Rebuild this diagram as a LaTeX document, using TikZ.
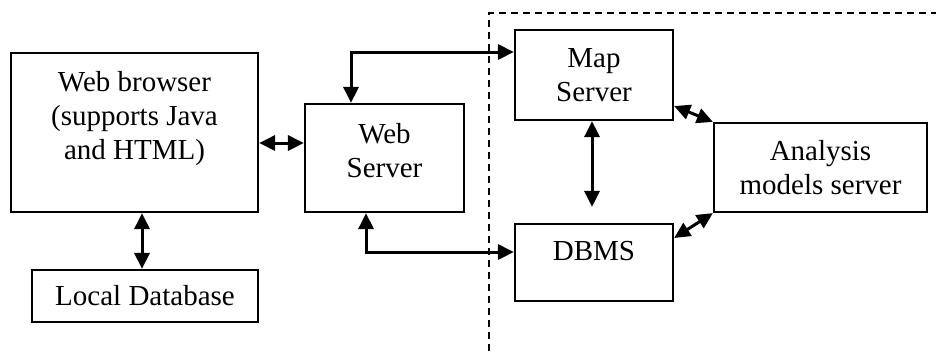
\documentclass[tikz,border=0pt]{standalone}
\usepackage{fontspec}
\setmainfont{Liberation Serif}
\usetikzlibrary{arrows.meta,calc}

\begin{document}
\begin{tikzpicture}[x=1pt, y=-1pt,
    box/.style={draw, rectangle, line width=2.2pt, inner sep=0pt, align=center,
        font=\fontsize{29}{34}\selectfont},
    >={Triangle[length=16pt,width=15pt]},
    link/.style={<->, line width=3pt}]
        \useasboundingbox (0,0) rectangle (936,351);

        \node (browser) [box, minimum width=247, minimum height=159] at (134.5,132.5) {Web browser\\(supports Java\\and HTML)\\\mbox{}};
        \node (localdb) [box, minimum width=226, minimum height=52] at (145,296) {Local Database};
        \node (webserver) [box, minimum width=159, minimum height=108] at (384.5,158) {Web\\Server\\[-18pt]\mbox{}};
        \node (mapserver) [box, minimum width=158, minimum height=90] at (594,75) {Map\\Server};
        \node (dbms) [box, minimum width=158, minimum height=77] at (594,262.5) {DBMS\\[-10pt]\mbox{}};
        \node (analysis) [box, minimum width=213, minimum height=89] at (820.5,167.5) {Analysis\\models server};

        % boundary of the server side
        \draw[line width=1.6pt, dash pattern=on 7pt off 5pt] (489,351) -- (489,13) -- (936,13);

        \draw[link] ([yshift=-10.5pt]browser.east) -- ([yshift=-10.5pt]browser.east -| webserver.west);
        \draw[link] ([xshift=7.5pt]browser.south) -- ([xshift=7.5pt]browser.south |- localdb.north);
        \draw[link] ([xshift=-33.5pt]webserver.north) |- ([yshift=23pt]mapserver.west);
        \draw[link] ([xshift=-18.5pt]webserver.south) |- ([yshift=10.5pt]dbms.west);
        \draw[link, shorten >=16pt] ([xshift=-2pt]mapserver.south) -- ([xshift=-2pt]dbms.north);
        \draw[link] (analysis.north west) -- ([yshift=-31pt]mapserver.east);
        \draw[link] (analysis.south west) -- ([yshift=24.5pt]dbms.east);
    \end{tikzpicture}
\end{document}
